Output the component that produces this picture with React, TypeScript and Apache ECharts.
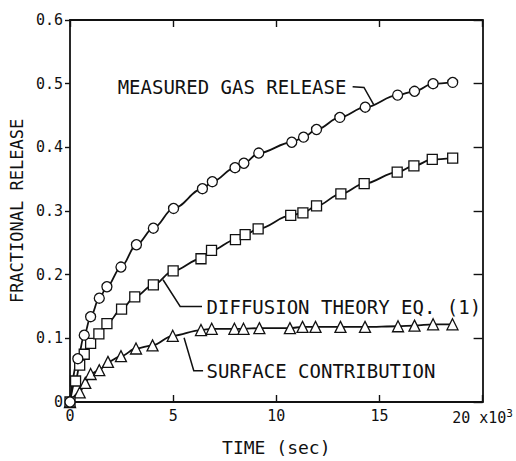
import React, { useEffect, useRef } from "react";
import * as echarts from "echarts";

// ---- data (time in 10^3 s, fractional release) ----
const measuredT = [0, 0.38, 0.69, 1.0, 1.42, 1.79, 2.47, 3.22, 4.04, 5.02, 6.42, 6.9, 8.0, 8.43, 9.15, 10.75, 11.32, 11.95, 13.08, 14.31, 15.88, 16.7, 17.6, 18.55];
const measuredV = [0, 0.068, 0.105, 0.134, 0.163, 0.181, 0.212, 0.247, 0.273, 0.304, 0.335, 0.346, 0.368, 0.375, 0.391, 0.408, 0.416, 0.428, 0.447, 0.463, 0.482, 0.488, 0.5, 0.502];

const diffT = [0, 0.27, 0.47, 0.69, 1.0, 1.4, 1.79, 2.5, 3.14, 4.04, 5.0, 6.35, 6.86, 8.02, 8.49, 9.12, 10.7, 11.29, 11.95, 13.13, 14.26, 15.86, 16.67, 17.56, 18.55];
const diffV = [0, 0.033, 0.058, 0.075, 0.092, 0.107, 0.123, 0.146, 0.165, 0.184, 0.206, 0.225, 0.238, 0.255, 0.263, 0.272, 0.293, 0.297, 0.308, 0.327, 0.343, 0.361, 0.371, 0.381, 0.383];

const surfT = [0, 0.47, 0.74, 1.0, 1.42, 1.84, 2.47, 3.2, 4.0, 4.98, 6.35, 6.87, 7.97, 8.41, 9.18, 10.66, 11.27, 11.9, 13.11, 14.3, 15.9, 16.7, 17.6, 18.54];
const surfV = [0, 0.015, 0.03, 0.044, 0.05, 0.063, 0.072, 0.084, 0.089, 0.104, 0.113, 0.115, 0.115, 0.115, 0.116, 0.116, 0.118, 0.118, 0.118, 0.118, 0.119, 0.12, 0.122, 0.122];

const xTickLabels = ["0", "5", "10", "15", "20"];
const yTickLabels = ["0", "0.1", "0.2", "0.3", "0.4", "0.5", "0.6"];

const seriesNames = ["MEASURED GAS RELEASE", "DIFFUSION THEORY EQ. (1)", "SURFACE CONTRIBUTION"];

// annotation anchors in data coordinates: [t, v]
const measuredLabelAnchor = [13.4, 0.495];
const measuredLeader = [[13.7, 0.495], [14.25, 0.494], [14.72, 0.467]];
const diffLabelAnchor = [6.62, 0.15];
const diffLeader = [[4.51, 0.192], [5.34, 0.15], [6.4, 0.15]];
const surfLabelAnchor = [6.62, 0.049];
const surfLeader = [[5.53, 0.101], [6.0, 0.049], [6.45, 0.049]];

const FONT = "DejaVu Sans Mono";
const INK = "#111";

const zip = (a: number[], b: number[]) => a.map((t, i) => [t, b[i]]);

export default function App() {
  const ref = useRef<HTMLDivElement>(null);
  useEffect(() => {
    if (!ref.current) return;
    const chart = echarts.init(ref.current, null, { renderer: "svg" });
    const axisLine = { show: true, onZero: false, lineStyle: { color: INK, width: 1.8 } };
    const mkSeries = (name: string, data: number[][], symbol: string, size: number) => ({
      name,
      type: "line",
      data,
      smooth: 0.35,
      smoothMonotone: "x",
      symbol,
      symbolSize: size,
      showAllSymbol: true,
      lineStyle: { color: INK, width: 1.8 },
      itemStyle: { color: "#fff", borderColor: INK, borderWidth: 1.3 },
      emphasis: { disabled: true },
      silent: true,
    });
    chart.setOption({
      animation: false,
      backgroundColor: "#fff",
      grid: { left: 66, right: 28, top: 20, bottom: 58 },
      xAxis: [
        {
          type: "value",
          min: 0,
          max: 20,
          interval: 5,
          position: "bottom",
          axisLine,
          axisTick: { show: true, inside: true, length: 7, lineStyle: { color: INK, width: 1.4 } },
          splitLine: { show: false },
          axisLabel: {
            fontFamily: FONT,
            fontSize: 15,
            color: INK,
            margin: 6,
            formatter: (v: number) => {
              const i = Math.round(v / 5);
              return i === 4 ? `{a|${xTickLabels[i]} x10}{s|3}` : `{a|${xTickLabels[i]}}`;
            },
            rich: {
              a: { fontFamily: FONT, fontSize: 15, color: INK },
              s: { fontFamily: FONT, fontSize: 11, color: INK, padding: [0, 0, 9, 0] },
            },
          },
          name: "TIME (sec)",
          nameLocation: "middle",
          nameGap: 36,
          nameTextStyle: { fontFamily: FONT, fontSize: 18, color: INK },
        },
        {
          type: "value",
          min: 0,
          max: 20,
          interval: 5,
          position: "top",
          axisLine,
          axisTick: { show: true, inside: true, length: 7, lineStyle: { color: INK, width: 1.4 } },
          axisLabel: { show: false },
          splitLine: { show: false },
        },
      ],
      yAxis: [
        {
          type: "value",
          min: 0,
          max: 0.6,
          interval: 0.1,
          position: "left",
          axisLine,
          axisTick: { show: true, inside: false, length: 5, lineStyle: { color: INK, width: 1.4 } },
          splitLine: { show: false },
          axisLabel: {
            fontFamily: FONT,
            fontSize: 15,
            color: INK,
            margin: 7,
            formatter: (v: number) => yTickLabels[Math.round(v * 10)],
          },
          name: "FRACTIONAL RELEASE",
          nameLocation: "middle",
          nameGap: 29,
          nameRotate: 90,
          nameTextStyle: { fontFamily: FONT, fontSize: 17, color: INK },
        },
        {
          type: "value",
          min: 0,
          max: 0.6,
          interval: 0.1,
          position: "right",
          axisLine,
          axisTick: { show: true, inside: true, length: 9, lineStyle: { color: INK, width: 1.4 } },
          axisLabel: { show: false },
          splitLine: { show: false },
        },
      ],
      series: [
        mkSeries(seriesNames[2], zip(surfT, surfV), "triangle", 11),
        mkSeries(seriesNames[1], zip(diffT, diffV), "rect", 10),
        mkSeries(seriesNames[0], zip(measuredT, measuredV), "circle", 10),
      ],
    });

    const px = (p: number[]) => chart.convertToPixel({ xAxisIndex: 0, yAxisIndex: 0 }, p) as number[];
    const txt = (anchor: number[], text: string, align: string) => {
      const [x, y] = px(anchor);
      return {
        type: "text",
        x,
        y,
        silent: true,
        style: {
          text,
          font: `19px "${FONT}"`,
          fill: INK,
          textAlign: align,
          textVerticalAlign: "middle",
        },
      };
    };
    const leader = (pts: number[][]) => ({
      type: "polyline",
      silent: true,
      shape: { points: pts.map(px) },
      style: { stroke: INK, lineWidth: 1.5, fill: null },
    });
    chart.setOption({
      graphic: [
        txt(measuredLabelAnchor, seriesNames[0], "right"),
        leader(measuredLeader),
        txt(diffLabelAnchor, seriesNames[1], "left"),
        leader(diffLeader),
        txt(surfLabelAnchor, seriesNames[2], "left"),
        leader(surfLeader),
      ],
    });
    return () => chart.dispose();
  }, []);
  return (
    <div
      ref={ref}
      style={{ position: "fixed", left: 0, top: 0, width: 516, height: 461, background: "#fff" }}
    />
  );
}
